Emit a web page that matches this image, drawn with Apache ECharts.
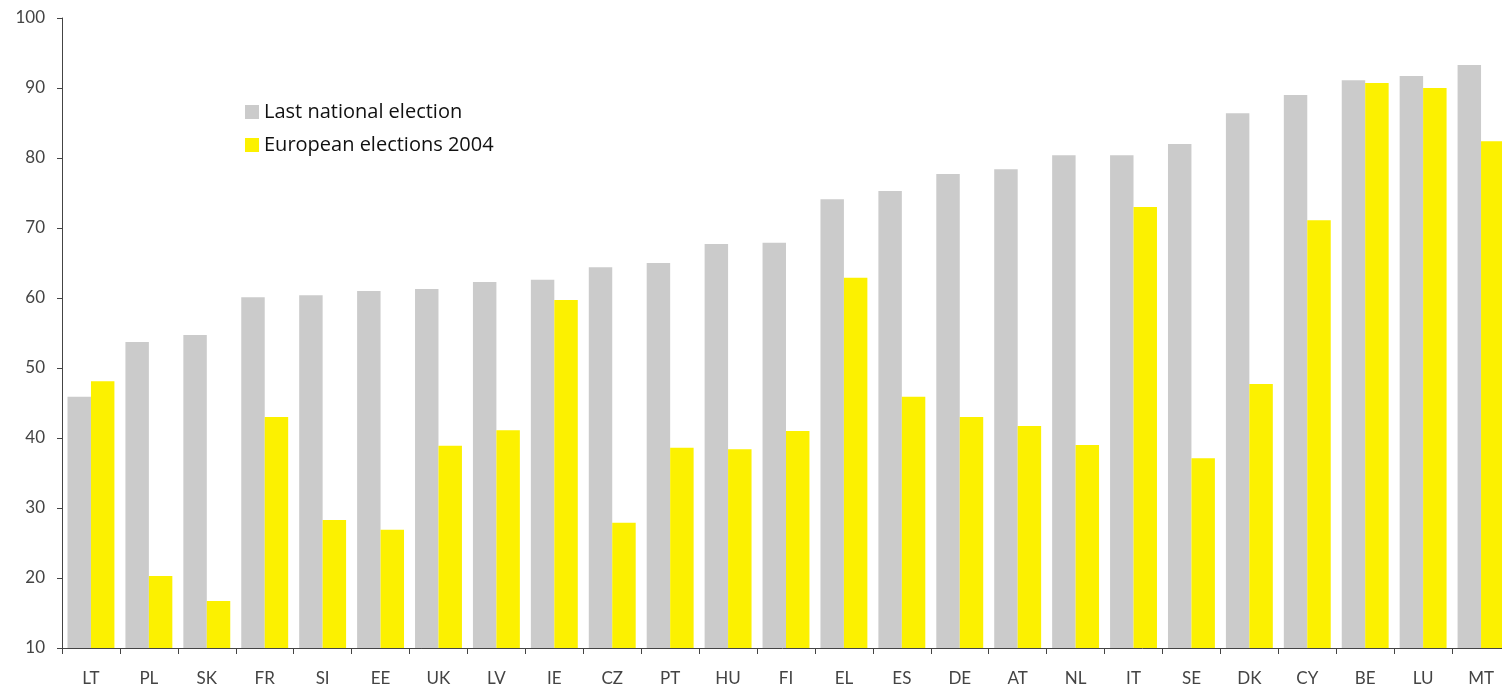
<!DOCTYPE html>
<html>
<head>
<meta charset="utf-8">
<script src="https://cdn.jsdelivr.net/npm/echarts@6/dist/echarts.min.js"></script>
<style>
html,body{margin:0;padding:0;background:#fff;}
#chart{width:1502px;height:688px;}
</style>
</head>
<body>
<div id="chart"></div>
<script>
const categories = ['LT','PL','SK','FR','SI','EE','UK','LV','IE','CZ','PT','HU','FI','EL','ES','DE','AT','NL','IT','SE','DK','CY','BE','LU','MT'];
const nationalElection = [45.9,53.7,54.7,60.1,60.4,61.0,61.3,62.3,62.6,64.4,65.0,67.7,67.9,74.1,75.3,77.7,78.4,80.4,80.4,82.0,86.4,89.0,91.1,91.7,93.3];
const european2004 = [48.1,20.3,16.7,43.0,28.3,26.9,38.9,41.1,59.7,27.9,38.6,38.4,41.0,62.9,45.9,43.0,41.7,39.0,73.0,37.1,47.7,71.1,90.7,90.0,82.4];
const seriesNames = ['Last national election','European elections 2004'];

const chart = echarts.init(document.getElementById('chart'));
chart.setOption({
  animation: false,
  backgroundColor: '#ffffff',
  textStyle: { fontFamily: 'Lato' },
  legend: {
    orient: 'vertical',
    left: 245,
    top: 102,
    itemWidth: 14,
    itemHeight: 14,
    itemGap: 13,
    icon: 'rect',
    padding: 0,
    textStyle: { fontSize: 20, color: '#111', fontFamily: 'Open Sans', fontWeight: 500 },
    data: seriesNames
  },
  grid: { left: 62, top: 18, width: 1448, height: 630, containLabel: false, outerBoundsMode: 'none' },
  xAxis: {
    type: 'category',
    data: categories,
    axisLine: { lineStyle: { color: '#444', width: 1 } },
    axisTick: { show: true, length: 6, lineStyle: { color: '#444' } },
    axisLabel: { fontSize: 17, color: '#444', margin: 22, fontFamily: 'Lato' },
    splitLine: { show: false }
  },
  yAxis: {
    type: 'value',
    min: 10, max: 100, interval: 10,
    axisLine: { show: true, lineStyle: { color: '#444', width: 1 } },
    axisTick: { show: true, length: 5, lineStyle: { color: '#444' } },
    axisLabel: { fontSize: 17, color: '#444', margin: 17, fontFamily: 'Lato' },
    splitLine: { show: false }
  },
  series: [
    { name: seriesNames[0], type: 'bar', data: nationalElection, barGap: '0%', barCategoryGap: '19%', itemStyle: { color: '#cbcbcb' } },
    { name: seriesNames[1], type: 'bar', data: european2004, barGap: '0%', barCategoryGap: '19%', itemStyle: { color: '#fcf100' } }
  ]
});
</script>
</body>
</html>
